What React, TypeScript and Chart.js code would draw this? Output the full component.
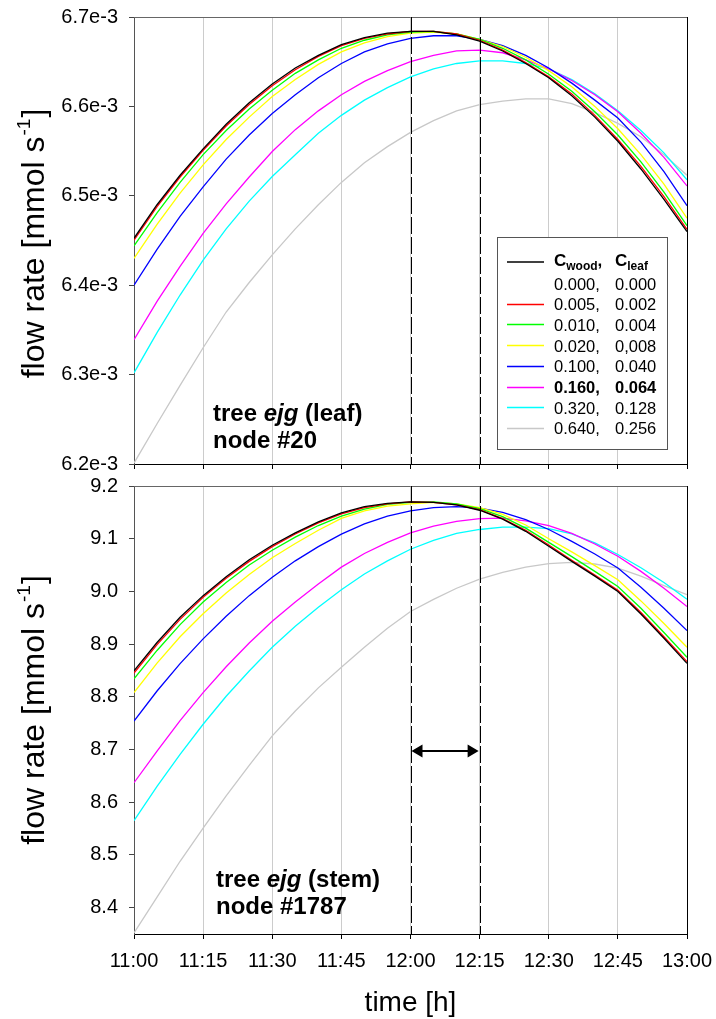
import React, { useEffect, useRef } from 'react';
import { Chart, registerables } from 'chart.js';

Chart.register(...registerables);

// ---------- data ----------
const times = [
  '11:00', '11:05', '11:10', '11:15', '11:20', '11:25', '11:30', '11:35', '11:40',
  '11:45', '11:50', '11:55', '12:00', '12:05', '12:10', '12:15', '12:20', '12:25',
  '12:30', '12:35', '12:40', '12:45', '12:50', '12:55', '13:00',
];
const xTickLabels = ['11:00', '11:15', '11:30', '11:45', '12:00', '12:15', '12:30', '12:45', '13:00'];
const markedTimes = ['12:00', '12:15'];

const seriesColors = ['#000000', '#ff0000', '#00ff00', '#ffff00', '#0000ff', '#ff00ff', '#00ffff', '#c8c8c8'];
const cWood = ['0.000', '0.005', '0.010', '0.020', '0.100', '0.160', '0.320', '0.640'];
const cLeaf = ['0.000', '0.002', '0.004', '0,008', '0.040', '0.064', '0.128', '0.256'];

// top panel: leaf node #20, flow rate in units of 1e-3 mmol s^-1
const leafTicks = [6.2, 6.3, 6.4, 6.5, 6.6, 6.7];
const leafC0 = [6.4525, 6.490, 6.523, 6.5525, 6.580, 6.604, 6.625, 6.643, 6.657, 6.669, 6.677, 6.682, 6.684, 6.684, 6.680, 6.673, 6.662, 6.648, 6.632, 6.612, 6.588, 6.561, 6.530, 6.496, 6.460];
const leafC1 = [6.4505, 6.488, 6.521, 6.551, 6.578, 6.602, 6.623, 6.641, 6.656, 6.668, 6.676, 6.681, 6.684, 6.684, 6.681, 6.674, 6.663, 6.649, 6.633, 6.614, 6.590, 6.563, 6.533, 6.499, 6.4625];
const leafC2 = [6.444, 6.481, 6.515, 6.546, 6.573, 6.597, 6.618, 6.637, 6.652, 6.665, 6.674, 6.680, 6.683, 6.684, 6.681, 6.675, 6.665, 6.652, 6.636, 6.617, 6.594, 6.568, 6.538, 6.504, 6.4665];
const leafC3 = [6.430, 6.468, 6.503, 6.5346, 6.563, 6.588, 6.611, 6.630, 6.647, 6.661, 6.671, 6.678, 6.682, 6.683, 6.681, 6.675, 6.667, 6.655, 6.640, 6.622, 6.600, 6.575, 6.546, 6.513, 6.475];
const leafC4 = [6.400, 6.440, 6.477, 6.510, 6.541, 6.568, 6.592, 6.613, 6.632, 6.648, 6.661, 6.670, 6.676, 6.679, 6.679, 6.675, 6.668, 6.657, 6.643, 6.626, 6.607, 6.587, 6.560, 6.527, 6.489];
const leafC5 = [6.339, 6.382, 6.421, 6.458, 6.491, 6.521, 6.5495, 6.574, 6.595, 6.613, 6.628, 6.640, 6.650, 6.657, 6.662, 6.663, 6.660, 6.652, 6.642, 6.629, 6.613, 6.594, 6.570, 6.543, 6.511];
const leafC6 = [6.302, 6.347, 6.389, 6.428, 6.463, 6.494, 6.5215, 6.546, 6.570, 6.590, 6.607, 6.621, 6.633, 6.642, 6.648, 6.651, 6.651, 6.648, 6.642, 6.630, 6.614, 6.595, 6.573, 6.548, 6.518];
const leafC7 = [6.201, 6.245, 6.288, 6.330, 6.370, 6.403, 6.434, 6.463, 6.490, 6.515, 6.537, 6.555, 6.571, 6.584, 6.595, 6.602, 6.606, 6.6085, 6.6085, 6.603, 6.593, 6.581, 6.566, 6.546, 6.523];

// bottom panel: stem node #1787, flow rate in mmol s^-1
const stemTicks = [8.4, 8.5, 8.6, 8.7, 8.8, 8.9, 9.0, 9.1, 9.2];
const stemC0 = [8.8495, 8.903, 8.951, 8.992, 9.028, 9.060, 9.0876, 9.111, 9.132, 9.149, 9.161, 9.167, 9.170, 9.169, 9.164, 9.154, 9.137, 9.114, 9.0857, 9.057, 9.029, 9.000, 8.957, 8.911, 8.8635];
const stemC1 = [8.845, 8.899, 8.947, 8.989, 9.025, 9.057, 9.085, 9.109, 9.130, 9.147, 9.159, 9.166, 9.170, 9.169, 9.164, 9.155, 9.138, 9.116, 9.088, 9.059, 9.031, 9.002, 8.960, 8.914, 8.8667];
const stemC2 = [8.834, 8.888, 8.937, 8.980, 9.017, 9.050, 9.078, 9.103, 9.125, 9.143, 9.156, 9.165, 9.169, 9.170, 9.166, 9.157, 9.142, 9.120, 9.093, 9.066, 9.038, 9.0095, 8.968, 8.922, 8.875];
const stemC3 = [8.808, 8.864, 8.914, 8.9575, 8.997, 9.032, 9.064, 9.091, 9.116, 9.1385, 9.153, 9.162, 9.166, 9.169, 9.166, 9.159, 9.146, 9.126, 9.100, 9.075, 9.049, 9.022, 8.982, 8.939, 8.894];
const stemC4 = [8.754, 8.811, 8.863, 8.910, 8.953, 8.992, 9.027, 9.058, 9.085, 9.1086, 9.128, 9.143, 9.153, 9.159, 9.161, 9.158, 9.150, 9.136, 9.1175, 9.095, 9.071, 9.0444, 9.008, 8.968, 8.9257];
const stemC5 = [8.637, 8.697, 8.755, 8.808, 8.857, 8.902, 8.9435, 8.980, 9.014, 9.046, 9.072, 9.093, 9.111, 9.124, 9.133, 9.138, 9.139, 9.134, 9.125, 9.110, 9.090, 9.0667, 9.038, 9.006, 8.9714];
const stemC6 = [8.565, 8.630, 8.691, 8.748, 8.801, 8.849, 8.894, 8.934, 8.970, 9.003, 9.033, 9.058, 9.080, 9.097, 9.110, 9.1175, 9.122, 9.122, 9.119, 9.109, 9.092, 9.070, 9.045, 9.017, 8.985];
const stemC7 = [8.352, 8.420, 8.488, 8.551, 8.612, 8.670, 8.726, 8.773, 8.817, 8.856, 8.894, 8.930, 8.962, 8.985, 9.006, 9.0234, 9.036, 9.046, 9.0527, 9.055, 9.052, 9.044, 9.029, 9.011, 8.994];

const arrowLevel = 8.697;

const leafSeries = [leafC0, leafC1, leafC2, leafC3, leafC4, leafC5, leafC6, leafC7];
const stemSeries = [stemC0, stemC1, stemC2, stemC3, stemC4, stemC5, stemC6, stemC7];

// ---------- helpers ----------
const FONT = '"Liberation Sans", Arial, Helvetica, sans-serif';
const toMin = (t: string) => {
  const [h, m] = t.split(':').map(Number);
  return (h - 11) * 60 + m;
};
const xs = times.map(toMin);

const W = 716;
const TOP_H = 475;
const BOT_H = 544;
const PLOT_LEFT = 134;
const PLOT_RIGHT_PAD = 29;

function makeDatasets(series: number[][]) {
  return series.map((vals, i) => ({
    label: `${cWood[i]}, ${cLeaf[i]}`,
    data: vals.map((v, j) => ({ x: xs[j], y: v })),
    borderColor: seriesColors[i],
    backgroundColor: seriesColors[i],
    borderWidth: 1.3,
    pointRadius: 0,
    tension: 0,
    fill: false,
  }));
}

function drawYTitle(ctx: CanvasRenderingContext2D, baseX: number, cy: number) {
  const main = `32px ${FONT}`;
  const sup = `19px ${FONT}`;
  const t1 = 'flow rate [mmol s';
  const t2 = '-1';
  const t3 = ']';
  ctx.save();
  ctx.translate(baseX, cy);
  ctx.rotate(-Math.PI / 2);
  ctx.fillStyle = '#000';
  ctx.textAlign = 'left';
  ctx.textBaseline = 'alphabetic';
  ctx.font = main;
  const w1 = ctx.measureText(t1).width;
  const w3 = ctx.measureText(t3).width;
  ctx.font = sup;
  const w2 = ctx.measureText(t2).width;
  let x = -(w1 + w2 + w3 + 2) / 2;
  ctx.font = main;
  ctx.fillText(t1, x, 0);
  x += w1 + 1;
  ctx.font = sup;
  ctx.fillText(t2, x, -14);
  x += w2 + 1;
  ctx.font = main;
  ctx.fillText(t3, x, 0);
  ctx.restore();
}

function drawAnnotation(ctx: CanvasRenderingContext2D, x: number, y: number, part: string, node: string) {
  const b = `bold 24px ${FONT}`;
  const bi = `italic bold 24px ${FONT}`;
  ctx.save();
  ctx.fillStyle = '#000';
  ctx.textAlign = 'left';
  ctx.textBaseline = 'alphabetic';
  let cx = x;
  ctx.font = b;
  ctx.fillText('tree ', cx, y);
  cx += ctx.measureText('tree ').width;
  ctx.font = bi;
  ctx.fillText('ejg', cx, y);
  cx += ctx.measureText('ejg').width;
  ctx.font = b;
  ctx.fillText(` (${part})`, cx, y);
  ctx.fillText(node, x, y + 27);
  ctx.restore();
}

function drawFrameAndMarks(chart: any) {
  const { ctx, chartArea } = chart;
  const xScale = chart.scales.x;
  ctx.save();
  // top border
  ctx.strokeStyle = '#666';
  ctx.lineWidth = 1;
  ctx.beginPath();
  ctx.moveTo(chartArea.left, Math.round(chartArea.top) + 0.5);
  ctx.lineTo(chartArea.right, Math.round(chartArea.top) + 0.5);
  ctx.stroke();
  // right border
  ctx.strokeStyle = '#000';
  ctx.beginPath();
  ctx.moveTo(Math.round(chartArea.right) + 0.5, chartArea.top);
  ctx.lineTo(Math.round(chartArea.right) + 0.5, chartArea.bottom);
  ctx.stroke();
  // dashed markers
  ctx.setLineDash([17, 3]);
  ctx.strokeStyle = '#000';
  ctx.lineWidth = 1;
  markedTimes.forEach((t) => {
    const px = Math.round(xScale.getPixelForValue(toMin(t))) + 0.5;
    ctx.beginPath();
    ctx.moveTo(px, chartArea.top);
    ctx.lineTo(px, chartArea.bottom);
    ctx.stroke();
  });
  ctx.restore();
}

const topPlugin = {
  id: 'topDecor',
  afterDatasetsDraw(chart: any) {
    const { ctx, chartArea } = chart;
    drawFrameAndMarks(chart);
    drawAnnotation(ctx, 213, 421, 'leaf', 'node #20');
    drawYTitle(ctx, 44, (chartArea.top + chartArea.bottom) / 2 + 3);

    // legend
    const lx = 497, ly = 237, lw = 170, lh = 212;
    ctx.save();
    ctx.fillStyle = '#fff';
    ctx.fillRect(lx, ly, lw, lh);
    ctx.strokeStyle = '#555';
    ctx.lineWidth = 1;
    ctx.strokeRect(lx + 0.5, ly + 0.5, lw, lh);
    const col1 = 554;
    const col2 = 615;
    const lineX0 = 507;
    const lineX1 = 544;
    // header
    ctx.strokeStyle = seriesColors[0];
    ctx.lineWidth = 1.3;
    ctx.beginPath();
    ctx.moveTo(lineX0, 262);
    ctx.lineTo(lineX1, 262);
    ctx.stroke();
    ctx.fillStyle = '#000';
    ctx.textAlign = 'left';
    ctx.textBaseline = 'alphabetic';
    const hb = 266;
    ctx.font = `bold 17px ${FONT}`;
    ctx.fillText('C', col1, hb);
    let wx = col1 + ctx.measureText('C').width;
    ctx.font = `bold 12px ${FONT}`;
    ctx.fillText('wood', wx, hb + 4);
    wx += ctx.measureText('wood').width;
    ctx.font = `bold 17px ${FONT}`;
    ctx.fillText(',', wx, hb);
    ctx.fillText('C', col2, hb);
    const lxw = col2 + ctx.measureText('C').width;
    ctx.font = `bold 12px ${FONT}`;
    ctx.fillText('leaf', lxw, hb + 4);
    // rows
    for (let k = 0; k < cWood.length; k++) {
      const base = 289.5 + 20.7 * k;
      ctx.font = k === 5 ? `bold 16.5px ${FONT}` : `16.5px ${FONT}`;
      ctx.fillStyle = '#000';
      ctx.fillText(`${cWood[k]},`, col1, base);
      ctx.fillText(cLeaf[k], col2, base);
      if (k > 0) {
        ctx.strokeStyle = seriesColors[k];
        ctx.lineWidth = 1.5;
        ctx.beginPath();
        ctx.moveTo(lineX0, Math.round(base - 6.5) + 0.5);
        ctx.lineTo(lineX1, Math.round(base - 6.5) + 0.5);
        ctx.stroke();
      }
    }
    ctx.restore();
  },
};

const bottomPlugin = {
  id: 'bottomDecor',
  afterDatasetsDraw(chart: any) {
    const { ctx, chartArea } = chart;
    const xScale = chart.scales.x;
    const yScale = chart.scales.y;
    drawFrameAndMarks(chart);
    drawAnnotation(ctx, 216, 887 - TOP_H, 'stem', 'node #1787');
    drawYTitle(ctx, 44, (chartArea.top + chartArea.bottom) / 2);

    // arrow between the marked times
    const x0 = xScale.getPixelForValue(toMin(markedTimes[0])) + 1;
    const x1 = xScale.getPixelForValue(toMin(markedTimes[1])) - 1;
    const ay = Math.round(yScale.getPixelForValue(arrowLevel));
    const head = 11;
    const half = 6.5;
    ctx.save();
    ctx.strokeStyle = '#000';
    ctx.fillStyle = '#000';
    ctx.lineWidth = 2.2;
    ctx.beginPath();
    ctx.moveTo(x0 + head - 1, ay);
    ctx.lineTo(x1 - head + 1, ay);
    ctx.stroke();
    ctx.beginPath();
    ctx.moveTo(x0, ay);
    ctx.lineTo(x0 + head, ay - half);
    ctx.lineTo(x0 + head, ay + half);
    ctx.closePath();
    ctx.fill();
    ctx.beginPath();
    ctx.moveTo(x1, ay);
    ctx.lineTo(x1 - head, ay - half);
    ctx.lineTo(x1 - head, ay + half);
    ctx.closePath();
    ctx.fill();

    // x title
    ctx.font = `28px ${FONT}`;
    ctx.textAlign = 'center';
    ctx.textBaseline = 'alphabetic';
    ctx.fillText('time [h]', (chartArea.left + chartArea.right) / 2, 1011 - TOP_H);
    ctx.restore();
  },
};

function xScaleOptions(showLabels: boolean, height: number) {
  return {
    type: 'linear' as const,
    min: toMin(xTickLabels[0]),
    max: toMin(xTickLabels[xTickLabels.length - 1]),
    afterBuildTicks: (s: any) => {
      s.ticks = xTickLabels.map((t) => ({ value: toMin(t) }));
    },
    afterFit: (s: any) => {
      s.height = height;
      s.paddingLeft = 0;
      s.paddingRight = 0;
      s.paddingTop = 0;
      s.paddingBottom = 0;
    },
    ticks: {
      display: showLabels,
      autoSkip: false,
      maxRotation: 0,
      padding: 10,
      color: '#000',
      font: { family: FONT, size: 20 },
      callback: (_v: any, i: number) => xTickLabels[i],
    },
    grid: {
      drawOnChartArea: true,
      drawTicks: true,
      tickLength: 5,
      tickColor: '#000',
      lineWidth: 1,
      color: (c: any) => {
        const v = c.tick ? c.tick.value : -1;
        if (v === toMin(xTickLabels[0]) || v === toMin(xTickLabels[xTickLabels.length - 1])) return 'rgba(0,0,0,0)';
        return '#cccccc';
      },
    },
    border: { display: true, color: '#000', width: 1 },
  };
}

function yScaleOptions(min: number, max: number, tickVals: number[], fmt: (v: number) => string) {
  return {
    type: 'linear' as const,
    min,
    max,
    afterBuildTicks: (s: any) => {
      s.ticks = tickVals.map((v) => ({ value: v }));
    },
    afterFit: (s: any) => {
      s.width = PLOT_LEFT;
      s.paddingTop = 0;
      s.paddingBottom = 0;
    },
    ticks: {
      autoSkip: false,
      padding: 11,
      color: '#000',
      font: { family: FONT, size: 20 },
      callback: (v: any) => fmt(Number(v)),
    },
    grid: {
      drawOnChartArea: false,
      drawTicks: true,
      tickLength: 5,
      tickColor: '#444',
    },
    border: { display: true, color: '#555', width: 1 },
  };
}

function baseOptions(padTop: number, x: any, y: any) {
  return {
    responsive: false,
    animation: false as const,
    events: [] as any[],
    layout: { padding: { top: padTop, right: PLOT_RIGHT_PAD, bottom: 0, left: 0 } },
    plugins: { legend: { display: false }, tooltip: { enabled: false }, title: { display: false } },
    scales: { x, y },
  };
}

export default function App() {
  const topRef = useRef<HTMLCanvasElement>(null);
  const botRef = useRef<HTMLCanvasElement>(null);

  useEffect(() => {
    const top = new Chart(topRef.current as HTMLCanvasElement, {
      type: 'line',
      data: { datasets: makeDatasets(leafSeries) as any },
      options: baseOptions(
        17,
        xScaleOptions(false, TOP_H - 464),
        yScaleOptions(leafTicks[0], leafTicks[leafTicks.length - 1], leafTicks, (v) => `${v.toFixed(1)}e-3`),
      ) as any,
      plugins: [topPlugin],
    });
    const bottom = new Chart(botRef.current as HTMLCanvasElement, {
      type: 'line',
      data: { datasets: makeDatasets(stemSeries) as any },
      options: baseOptions(
        486 - TOP_H,
        xScaleOptions(true, BOT_H - (934 - TOP_H)),
        yScaleOptions(8.35, stemTicks[stemTicks.length - 1], stemTicks, (v) => v.toFixed(1)),
      ) as any,
      plugins: [bottomPlugin],
    });
    return () => {
      top.destroy();
      bottom.destroy();
    };
  }, []);

  return (
    <div style={{ position: 'absolute', left: 0, top: 0, width: W, height: TOP_H + BOT_H, background: '#fff' }}>
      <canvas ref={topRef} width={W} height={TOP_H} style={{ position: 'absolute', left: 0, top: 0, display: 'block' }} />
      <canvas ref={botRef} width={W} height={BOT_H} style={{ position: 'absolute', left: 0, top: TOP_H, display: 'block' }} />
    </div>
  );
}
